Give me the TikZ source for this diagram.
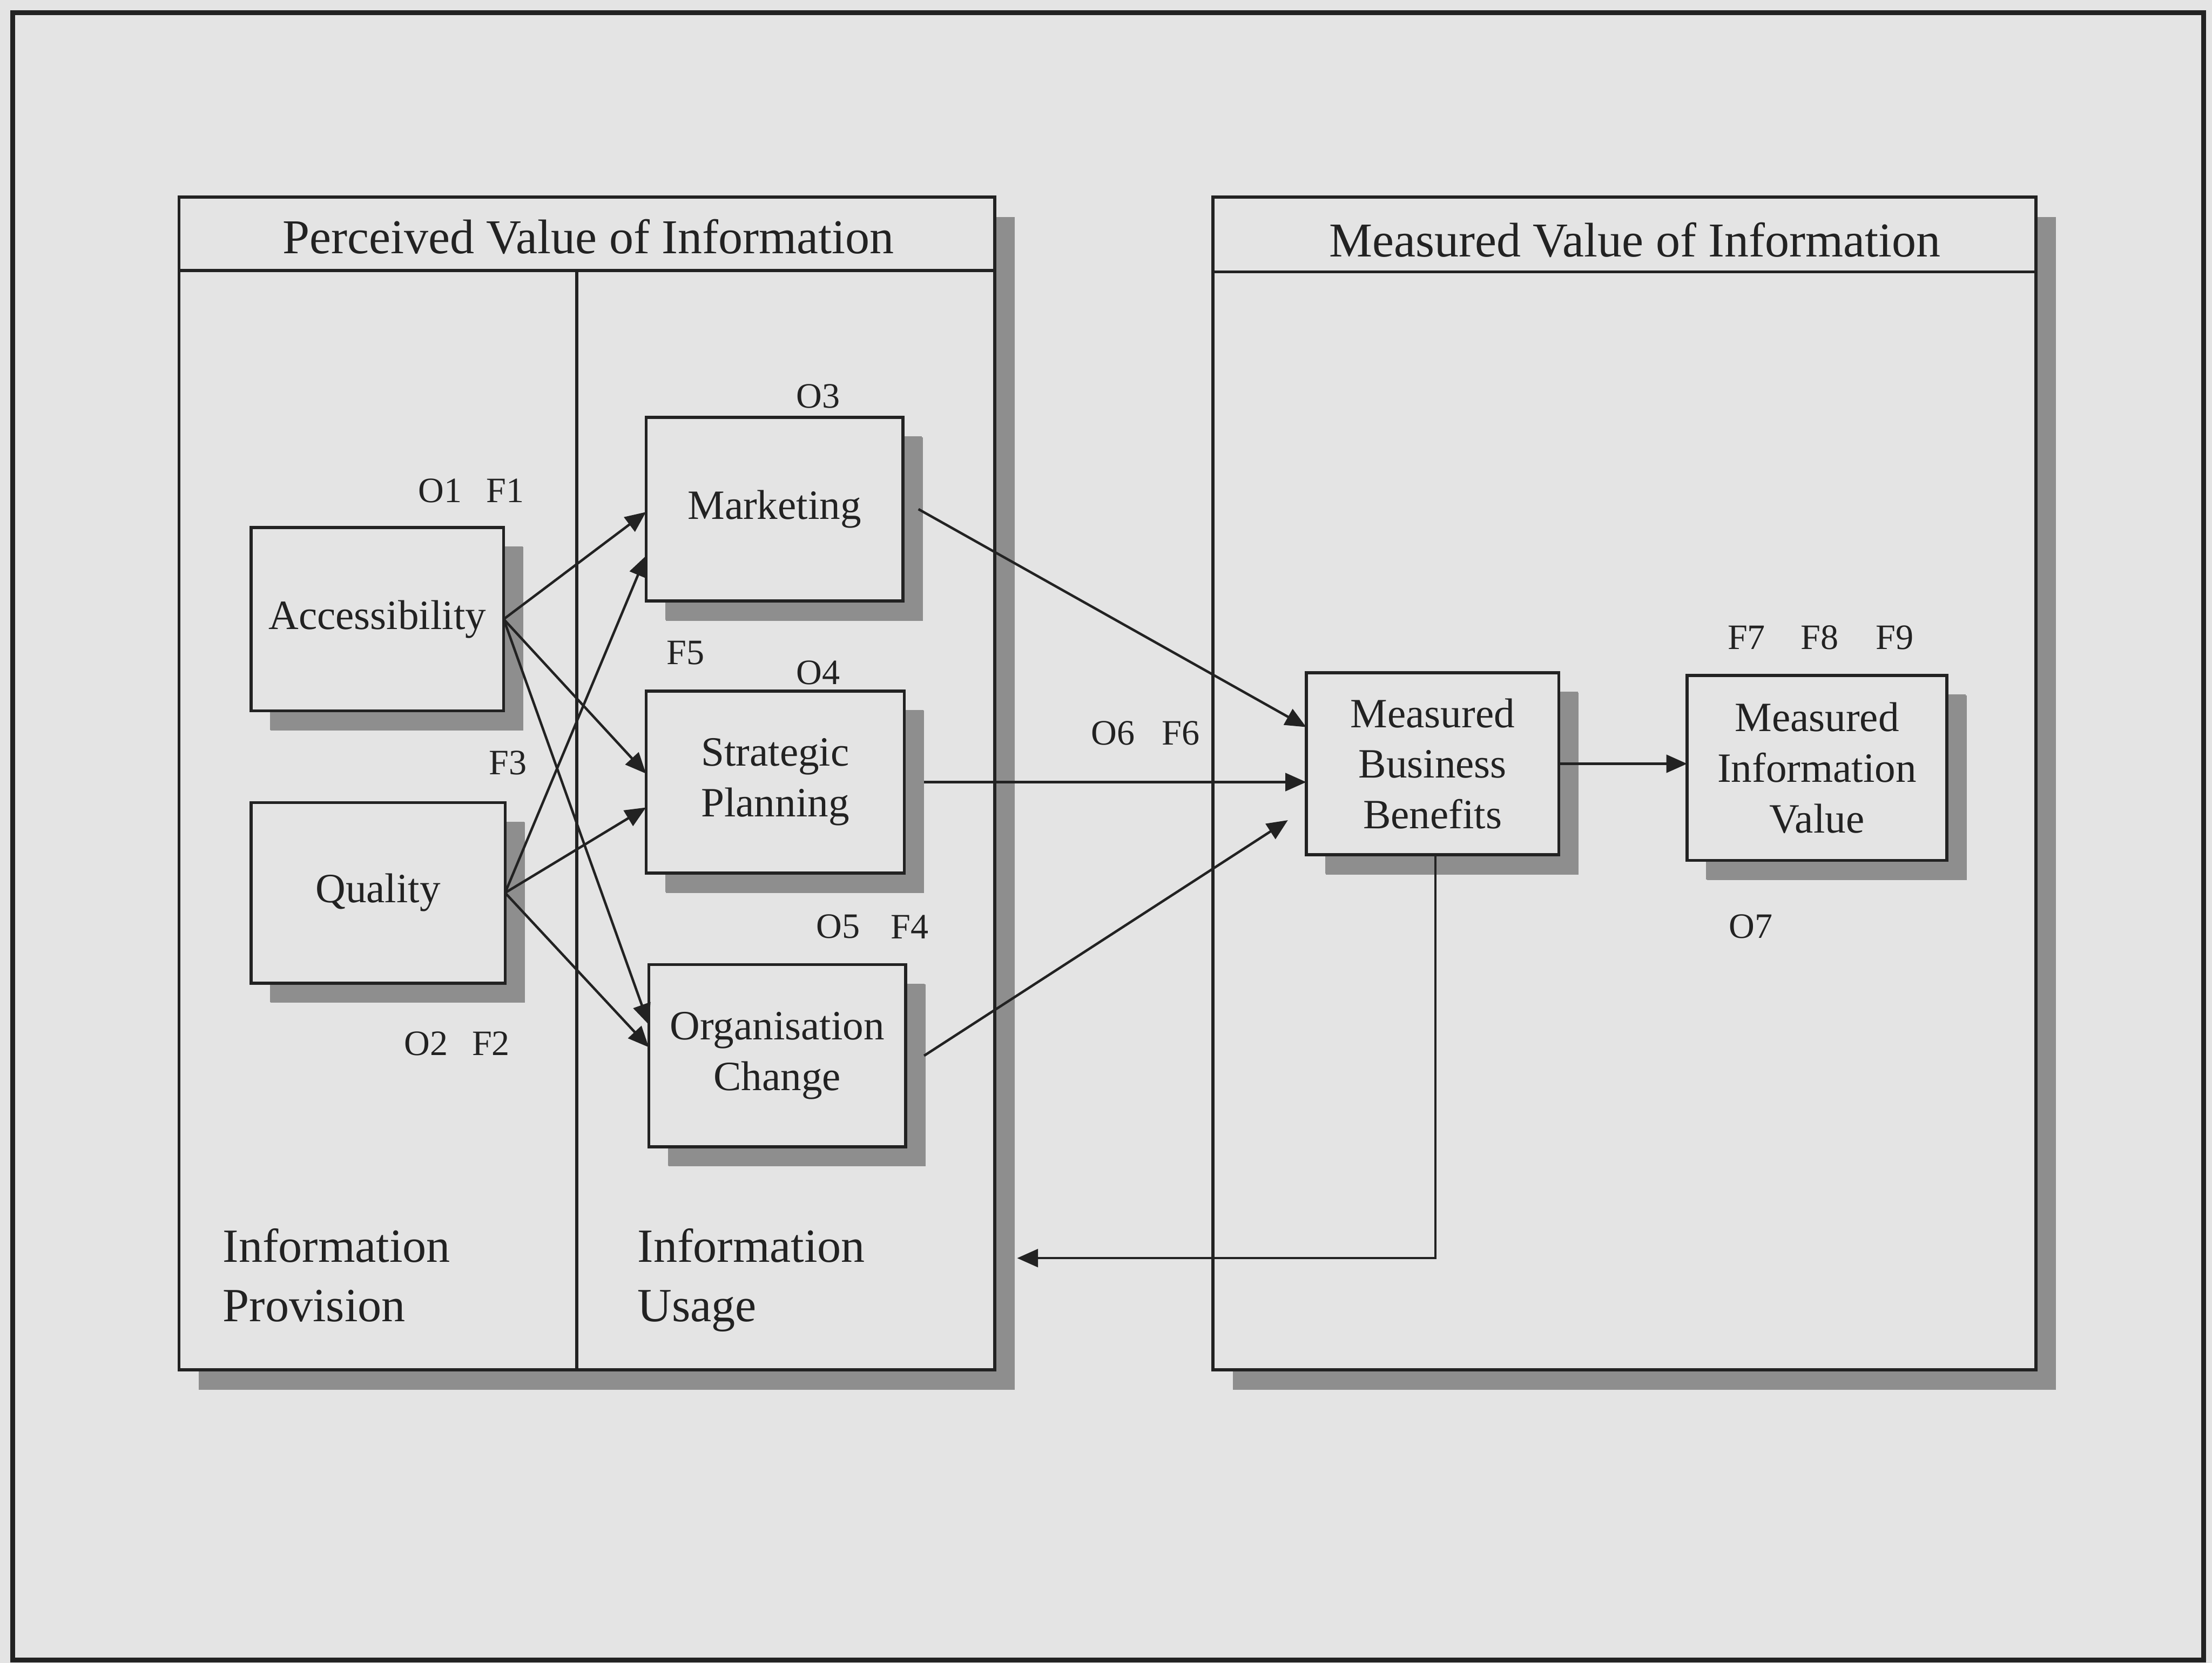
\documentclass[tikz,border=0pt]{standalone}
\usepackage{fontspec}
\setmainfont{Liberation Serif}
\usetikzlibrary{arrows.meta,calc,shadows}

\definecolor{paper}{HTML}{E4E4E4}
\definecolor{ink}{HTML}{222222}
\definecolor{shade}{HTML}{8E8E8E}

\begin{document}
\begin{tikzpicture}[x=0.01cm,y=-0.01cm,
  every node/.style={inner sep=0pt, outer sep=0pt, text=ink},
  panel/.style={draw=ink, line width=0.6pt, fill=paper,
    drop shadow={shadow xshift=0.14cm, shadow yshift=-0.14cm, fill=shade, opacity=1}},
  unit/.style={panel, align=center, font=\fontsize{8.4}{10.2}\selectfont,
    drop shadow={shadow xshift=0.135cm, shadow yshift=-0.135cm, fill=shade, opacity=1}},
  heading/.style={font=\fontsize{9.8}{11.5}\selectfont},
  area/.style={font=\fontsize{9.6}{11.95}\selectfont, align=left, anchor=north west},
  tag/.style={font=\fontsize{7.2}{8.6}\selectfont},
  rule/.style={draw=ink, line width=0.6pt},
  conn/.style={draw=ink, line width=0.5pt, -{Triangle[length=4.2pt,width=3.6pt]}}
]
% page background and frame
\path[use as bounding box, fill=paper] (0,0) rectangle (1568,1179);
\draw[ink, line width=1pt] (9,9) rectangle (1562,1177);

% the two large panels
\node[panel, minimum width=5.78cm, minimum height=8.31cm] (pv) at (416,555.5) {};
\node[panel, minimum width=5.83cm, minimum height=8.31cm] (mv) at (1151.5,555.5) {};

\draw[rule] ($(pv.north west)+(0,52)$) -- ($(pv.north east)+(0,52)$);
\draw[rule] ($(pv.north west)+(282,52)$) -- ($(pv.south west)+(282,0)$);
\draw[rule] ($(mv.north west)+(0,53)$) -- ($(mv.north east)+(0,53)$);

\node[heading] (pvtitle) at (417,168) {Perceived Value of Information};
\node[heading] (mvtitle) at (1159,170) {Measured Value of Information};

\node[area] (prov) at (158,871) {Information\\Provision};
\node[area] (usage) at (452,871) {Information\\Usage};

% constructs
\node[unit, minimum width=1.79cm, minimum height=1.30cm] (acc) at (267.5,439) {Accessibility};
\node[unit, minimum width=1.80cm, minimum height=1.28cm] (qual) at (268,633) {Quality};
\node[unit, minimum width=1.82cm, minimum height=1.30cm] (mkt) at (549,361) {Marketing};
\node[unit, minimum width=1.83cm, minimum height=1.29cm] (strat) at (549.5,554.5) {Strategic\\Planning};
\node[unit, minimum width=1.82cm, minimum height=1.29cm] (org) at (551,748.5) {Organisation\\Change};
\node[unit, minimum width=1.79cm, minimum height=1.29cm] (mbb) at (1015.5,541.5) {Measured\\Business\\Benefits};
\node[unit, minimum width=1.84cm, minimum height=1.31cm] (miv) at (1288,544.5) {Measured\\Information\\Value};

% objective and finding tags
\node[tag] (o1) at (312,348) {O1};
\node[tag] (f1) at (358,348) {F1};
\node[tag] (o3) at (580,281) {O3};
\node[tag] (f5) at (486,463) {F5};
\node[tag] (o4) at (580,477) {O4};
\node[tag] (f3) at (360,541) {F3};
\node[tag] (o2) at (302,740) {O2};
\node[tag] (f2) at (348,740) {F2};
\node[tag] (o5) at (594,657) {O5};
\node[tag] (f4) at (645,657) {F4};
\node[tag] (o6) at (789,520) {O6};
\node[tag] (f6) at (837,520) {F6};
\node[tag] (f7) at (1238,452) {F7};
\node[tag] (f8) at (1290,452) {F8};
\node[tag] (f9) at (1343,452) {F9};
\node[tag] (o7) at (1241,657) {O7};

% provision -> usage
\draw[conn] (acc.east) -- ($(mkt.west)+(0,2)$);
\draw[conn] (qual.east) -- ($(mkt.west)+(0,33)$);
\draw[conn] (acc.east) -- ($(strat.west)+(0,-6)$);
\draw[conn] (qual.east) -- ($(strat.west)+(0,18)$);
\draw[conn] (acc.east) -- ($(org.west)+(0,-22)$);
\draw[conn] (qual.east) -- ($(org.west)+(0,-6)$);

% usage -> measured benefits
\draw[conn] ($(mkt.east)+(11,0)$) -- ($(mbb.west)+(0,-26)$);
\draw[conn] ($(strat.east)+(14,0)$) -- (strat.east -| mbb.west);
\draw[conn] ($(org.east)+(13,0)$) -- ($(mbb.west)+(-13,40)$);
\draw[conn] (mbb.east) -- (mbb.east -| miv.west);

% feedback loop
\coordinate (fb) at (721,892);
\draw[conn] ($(mbb.south)+(2,0)$) |- (fb);
\end{tikzpicture}
\end{document}
